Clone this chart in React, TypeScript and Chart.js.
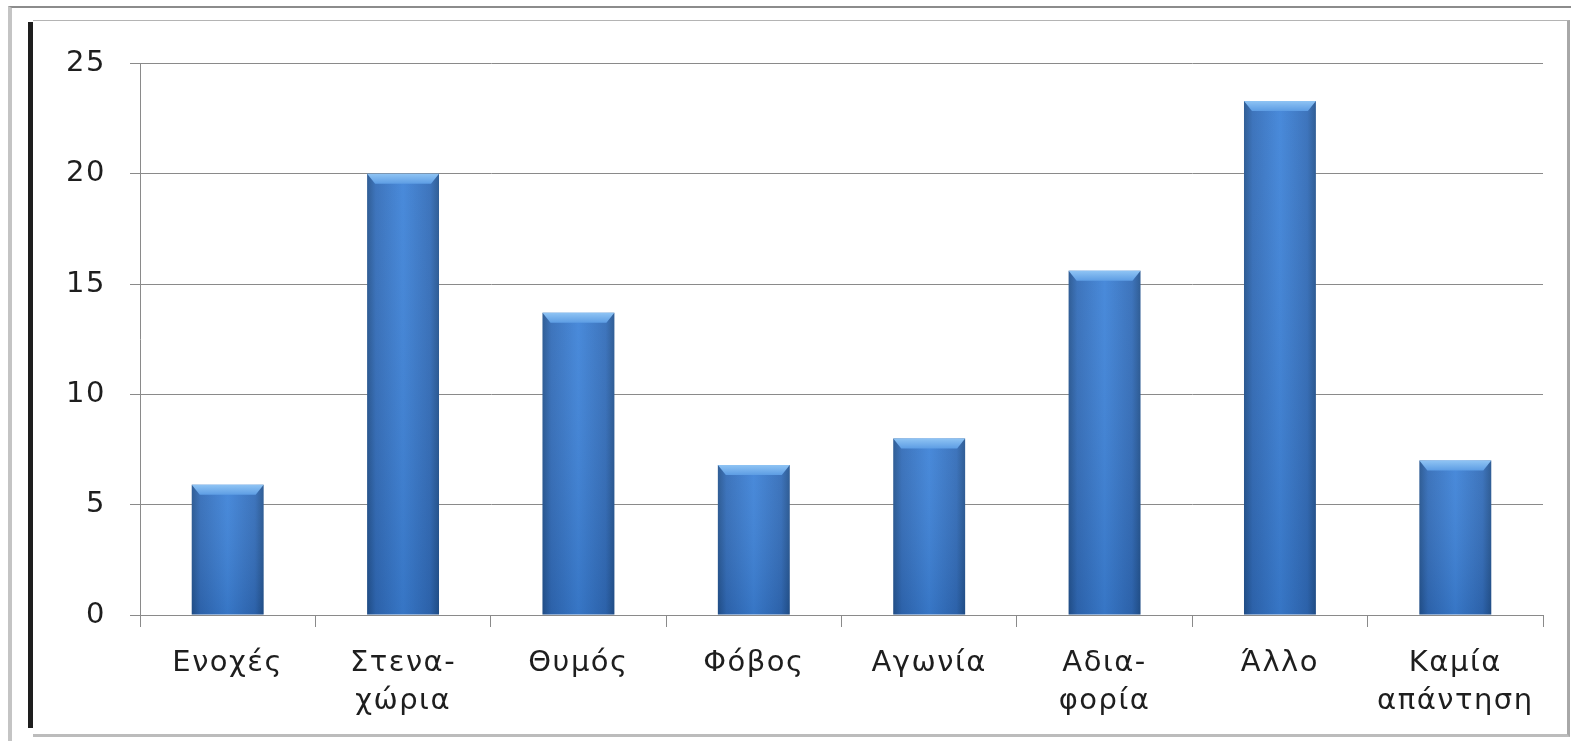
import React, { useEffect, useRef } from "react";
import { Chart, registerables } from "chart.js";

Chart.register(...registerables);

const categories: (string | string[])[] = [
  "Ενοχές",
  ["Στενα-", "χώρια"],
  "Θυμός",
  "Φόβος",
  "Αγωνία",
  ["Αδια-", "φορία"],
  "Άλλο",
  ["Καμία", "απάντηση"],
];
const values: number[] = [5.9, 20, 13.7, 6.8, 8, 15.6, 23.3, 7];
const yTicks: number[] = [0, 5, 10, 15, 20, 25];

const BAR_PCT = 0.41;
const FONT = "'DejaVu Sans', Verdana, sans-serif";
const SPACING = "1.5px";

const letterSpacing = {
  id: "letterSpacing",
  beforeUpdate(chart: any) {
    chart.ctx.letterSpacing = SPACING;
  },
  beforeLayout(chart: any) {
    chart.ctx.letterSpacing = SPACING;
  },
  beforeDraw(chart: any) {
    chart.ctx.letterSpacing = SPACING;
  },
};

const barStyle = {
  id: "barStyle",
  afterDatasetsDraw(chart: any) {
    const ctx = chart.ctx;
    const meta = chart.getDatasetMeta(0);
    meta.data.forEach((bar: any) => {
      const { x, y, base, width } = bar.getProps(["x", "y", "base", "width"], true);
      if (![x, y, base, width].every((v) => Number.isFinite(v))) return;
      const l = x - width / 2;
      const r = x + width / 2;
      ctx.save();
      const vg = ctx.createLinearGradient(0, y, 0, base);
      vg.addColorStop(0, "rgba(255,255,255,0.06)");
      vg.addColorStop(1, "rgba(0,20,60,0.12)");
      ctx.fillStyle = vg;
      ctx.fillRect(l, y, width, base - y);
      const bh = 10;
      const bg = ctx.createLinearGradient(0, y, 0, y + bh);
      bg.addColorStop(0, "#8fc4f4");
      bg.addColorStop(1, "#5d9de4");
      ctx.fillStyle = bg;
      ctx.beginPath();
      ctx.moveTo(l, y);
      ctx.lineTo(r, y);
      ctx.lineTo(r - 8, y + bh);
      ctx.lineTo(l + 8, y + bh);
      ctx.closePath();
      ctx.fill();
      ctx.restore();
    });
  },
};

export default function App() {
  const ref = useRef<HTMLCanvasElement | null>(null);

  useEffect(() => {
    if (!ref.current) return;
    const chart = new Chart(ref.current, {
      type: "bar",
      data: {
        labels: categories,
        datasets: [
          {
            data: values,
            barPercentage: BAR_PCT,
            categoryPercentage: 1,
            borderWidth: 0,
            backgroundColor: (c: any) => {
              const ch = c.chart;
              const xs = ch.scales && ch.scales.x;
              if (!xs || c.dataIndex === undefined) return "#3a7bd5";
              const cx = xs.getPixelForValue(c.dataIndex);
              const w = (xs.width / categories.length) * BAR_PCT;
              if (!Number.isFinite(cx) || !Number.isFinite(w) || w <= 0) return "#3a7bd5";
              const g = ch.ctx.createLinearGradient(cx - w / 2, 0, cx + w / 2, 0);
              g.addColorStop(0, "#24548f");
              g.addColorStop(0.12, "#326cb8");
              g.addColorStop(0.5, "#3e83d8");
              g.addColorStop(0.88, "#326cb8");
              g.addColorStop(1, "#24548f");
              return g;
            },
          },
        ],
      },
      options: {
        responsive: false,
        animation: false,
        devicePixelRatio: 1,
        layout: { padding: { top: 37, right: 21, left: 0, bottom: 0 } },
        plugins: {
          legend: { display: false },
          tooltip: { enabled: false },
        },
        scales: {
          x: {
            grid: {
              display: true,
              drawOnChartArea: false,
              drawTicks: true,
              tickLength: 12,
              color: "#8a8a8a",
              offset: true,
            },
            border: { display: true, color: "#8a8a8a", width: 1 },
            ticks: {
              color: "#1e1e1e",
              padding: 17,
              maxRotation: 0,
              autoSkip: false,
              font: { family: FONT, size: 29, lineHeight: 1.32 },
            },
            afterFit: (axis: any) => {
              axis.height = 117;
            },
          },
          y: {
            min: 0,
            max: 25,
            afterBuildTicks: (axis: any) => {
              axis.ticks = yTicks.map((v) => ({ value: v }));
            },
            grid: {
              color: "#8a8a8a",
              tickLength: 10,
              drawTicks: true,
            },
            border: { display: true, color: "#8a8a8a", width: 1 },
            ticks: {
              color: "#1e1e1e",
              padding: 24,
              font: { family: FONT, size: 29 },
            },
            afterFit: (axis: any) => {
              axis.width = 106;
            },
          },
        },
      },
      plugins: [letterSpacing, barStyle],
    });
    return () => chart.destroy();
  }, []);

  return (
    <div
      style={{
        position: "fixed",
        left: 0,
        top: 0,
        width: 1571,
        height: 741,
        background: "#ffffff",
        overflow: "hidden",
      }}
    >
      <div
        style={{
          position: "absolute",
          left: 8,
          top: 6,
          width: 1563,
          height: 740,
          borderTop: "2px solid #8c8c8c",
          borderLeft: "4px solid #c4c4c4",
          boxSizing: "border-box",
        }}
      />
      <div
        style={{
          position: "absolute",
          left: 33,
          top: 20,
          width: 1537,
          height: 717,
          borderTop: "1px solid #b4b4b4",
          borderRight: "3px solid #a8a8a8",
          borderBottom: "3px solid #bcbcbc",
          boxSizing: "border-box",
        }}
      />
      <div
        style={{
          position: "absolute",
          left: 28,
          top: 22,
          width: 5,
          height: 706,
          background: "#1e1e1e",
        }}
      />
      <canvas
        ref={ref}
        width={1530}
        height={710}
        style={{ position: "absolute", left: 34, top: 22, width: 1530, height: 710 }}
      />
    </div>
  );
}
